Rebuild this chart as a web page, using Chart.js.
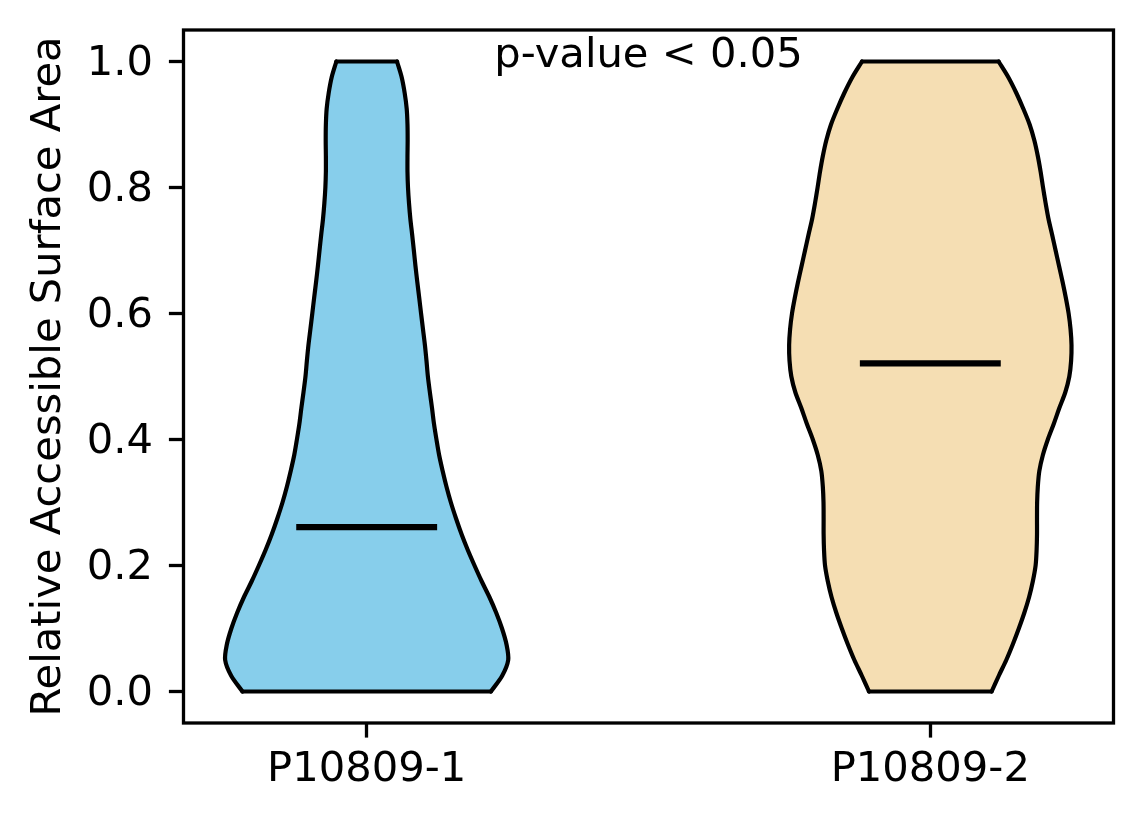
<!DOCTYPE html>
<html>
<head>
<meta charset="utf-8">
<script src="https://cdn.jsdelivr.net/npm/chart.js@4.4.1/dist/chart.umd.min.js"></script>
<style>
  html, body { margin: 0; padding: 0; background: #fff; }
  #wrap { width: 1144px; height: 824px; }
</style>
</head>
<body>
<div id="wrap"><canvas id="myChart"></canvas></div>
<script>
// groups and where they sit on the x axis
var groups = ["P10809-1", "P10809-2"];
var positions = [1, 2];
var yTicks = [0.0, 0.2, 0.4, 0.6, 0.8, 1.0];

// heights where the violin outlines were read
var levels = [0, 0.025, 0.05, 0.075, 0.1, 0.125, 0.15, 0.175, 0.2, 0.225,
              0.25, 0.275, 0.3, 0.325, 0.35, 0.375, 0.4, 0.425, 0.45, 0.475,
              0.5, 0.525, 0.55, 0.575, 0.6, 0.625, 0.65, 0.675, 0.7, 0.725,
              0.75, 0.775, 0.8, 0.825, 0.85, 0.875, 0.9, 0.925, 0.95, 0.975, 1.0];

// half width of each violin at those heights (x axis units)
var widthA = [0.2204, 0.2404, 0.2511, 0.2480, 0.2401, 0.2298, 0.2177, 0.2040, 0.1913, 0.1792,
              0.1682, 0.1584, 0.1494, 0.1416, 0.1348, 0.1286, 0.1238, 0.1194, 0.1159, 0.1121,
              0.1086, 0.1061, 0.1033, 0.0999, 0.0965, 0.0932, 0.0898, 0.0866, 0.0837, 0.0807,
              0.0775, 0.0751, 0.0733, 0.0724, 0.0724, 0.0727, 0.0724, 0.0710, 0.0674, 0.0621, 0.0538];
var widthB = [0.1088, 0.1215, 0.1348, 0.1464, 0.1570, 0.1668, 0.1753, 0.1819, 0.1868, 0.1886,
              0.1893, 0.1893, 0.1895, 0.1907, 0.1934, 0.1996, 0.2085, 0.2191, 0.2289, 0.2395,
              0.2466, 0.2498, 0.2505, 0.2488, 0.2454, 0.2404, 0.2347, 0.2285, 0.2223, 0.2161,
              0.2097, 0.2046, 0.2000, 0.1957, 0.1907, 0.1845, 0.1762, 0.1650, 0.1526, 0.1384, 0.1212];

var medians = [0.261, 0.521];
var medianHalf = 0.125;
var note = "p-value < 0.05";
var notePos = [1.5, 0.992];

var FONT = "DejaVu Sans";
var FS = 41.67;

Chart.defaults.font.family = FONT;
Chart.defaults.color = "#000";

// one side of a violin, bottom to top (side = +1 right, -1 left)
function side(pos, widths, s) {
  return levels.map(function(v, i) { return {x: pos + s * widths[i], y: v}; });
}
// closed polygon for the fill
function outline(pos, widths) {
  return side(pos, widths, 1).concat(side(pos, widths, -1).reverse());
}
// flat end of a violin at level index k
function cap(pos, widths, k) {
  return [{x: pos - widths[k], y: levels[k]}, {x: pos + widths[k], y: levels[k]}];
}
function medianLine(pos, m) {
  return [{x: pos - medianHalf, y: m}, {x: pos + medianHalf, y: m}];
}

var edge = {
  showLine: true, fill: false, borderColor: '#000', borderWidth: 4.2,
  pointRadius: 0, pointHoverRadius: 0, borderCapStyle: 'round', order: 1
};

function violinSets(pos, widths, color) {
  var top = levels.length - 1;
  return [
    {data: outline(pos, widths), showLine: true, fill: 'shape', backgroundColor: color,
     borderWidth: 0, pointRadius: 0, pointHoverRadius: 0, tension: 0, order: 2},
    Object.assign({data: side(pos, widths, 1), tension: 0.3}, edge),
    Object.assign({data: side(pos, widths, -1), tension: 0.3}, edge),
    Object.assign({data: cap(pos, widths, 0), tension: 0}, edge),
    Object.assign({data: cap(pos, widths, top), tension: 0}, edge)
  ];
}

var medianStyle = {
  showLine: true, fill: false, borderColor: '#000', borderWidth: 6.25,
  pointRadius: 0, pointHoverRadius: 0, borderCapStyle: 'butt', order: 0
};

var framePlugin = {
  id: 'frame',
  afterDatasetsDraw: function(chart) {
    var a = chart.chartArea, ctx = chart.ctx;
    ctx.save();
    ctx.strokeStyle = '#000';
    ctx.lineWidth = 3.3;
    ctx.strokeRect(a.left, a.top, a.right - a.left, a.bottom - a.top);
    ctx.font = FS + 'px "' + FONT + '"';
    ctx.fillStyle = '#000';
    ctx.textAlign = 'center';
    ctx.textBaseline = 'alphabetic';
    ctx.fillText(note, chart.scales.x.getPixelForValue(notePos[0]), chart.scales.y.getPixelForValue(notePos[1]));
    ctx.restore();
  }
};

var datasets = [
  Object.assign({data: medianLine(positions[0], medians[0])}, medianStyle),
  Object.assign({data: medianLine(positions[1], medians[1])}, medianStyle)
].concat(violinSets(positions[0], widthA, '#87ceeb'), violinSets(positions[1], widthB, '#f5deb3'));

var ctx = document.getElementById("myChart");
var myChart = new Chart(ctx, {
  type: 'scatter',
  data: { datasets: datasets },
  options: {
    responsive: true,
    maintainAspectRatio: false,
    animation: false,
    layout: { padding: { left: 0, top: 30, right: 30.5, bottom: 0 } },
    plugins: { legend: { display: false }, tooltip: { enabled: false } },
    scales: {
      x: {
        type: 'linear',
        min: 0.675,
        max: 2.325,
        afterBuildTicks: function(axis) {
          axis.ticks = positions.map(function(v) { return {value: v}; });
        },
        afterFit: function(scale) {
          scale.height = 101;
          scale.paddingLeft = 0;
          scale.paddingRight = 0;
        },
        ticks: {
          font: { size: FS },
          padding: 8,
          maxRotation: 0,
          callback: function(value) {
            var i = positions.indexOf(value);
            return i >= 0 ? groups[i] : '';
          }
        },
        grid: { drawOnChartArea: false, drawTicks: true, tickLength: 14.6, tickWidth: 3.3, tickColor: '#000' },
        border: { display: false }
      },
      y: {
        type: 'linear',
        min: -0.05,
        max: 1.05,
        afterBuildTicks: function(axis) {
          axis.ticks = yTicks.map(function(v) { return {value: v}; });
        },
        afterFit: function(scale) {
          scale.width = 183.5;
          scale.paddingTop = 0;
          scale.paddingBottom = 0;
        },
        ticks: {
          font: { size: FS },
          padding: 16,
          labelOffset: 3,
          callback: function(value) { return value.toFixed(1); }
        },
        grid: { drawOnChartArea: false, drawTicks: true, tickLength: 14.6, tickWidth: 3.3, tickColor: '#000' },
        border: { display: false },
        title: {
          display: true,
          text: 'Relative Accessible Surface Area',
          font: { size: FS },
          padding: { top: 24, bottom: 0 }
        }
      }
    }
  },
  plugins: [framePlugin]
});
</script>
</body>
</html>
